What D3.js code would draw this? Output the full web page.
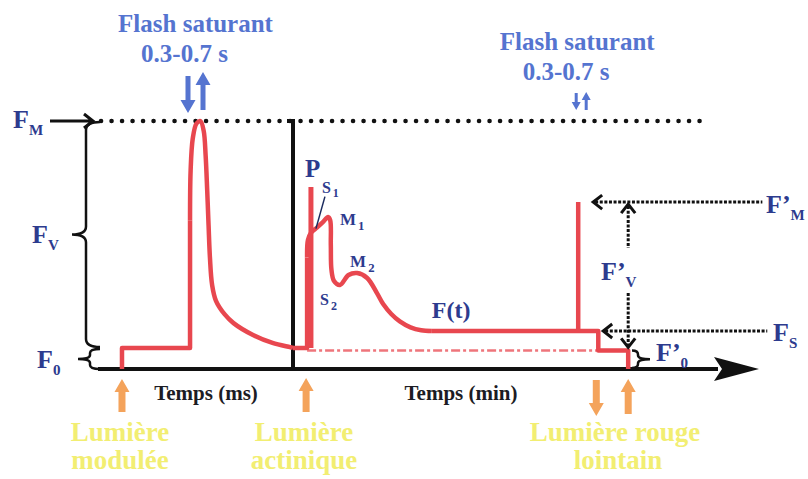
<!DOCTYPE html>
<html>
<head>
<meta charset="utf-8">
<script src="https://cdn.jsdelivr.net/npm/d3@7"></script>
<style>
  body { margin: 0; background: #fff; }
  svg { display: block; }
  text { font-family: "Liberation Serif", "Times New Roman", serif; font-weight: bold; }
</style>
</head>
<body>
<svg id="chart" width="808" height="479"></svg>
<script>
// Fluorescence levels (relative units, FM = 1)
const F0 = 0.085, FM = 1.0, FS = 0.153, FMp = 0.673, F0p = 0.075;

// Short time scale (ms): modulated light on, then saturating flash -> FM
const msSteps = [[1.23, 0], [1.23, F0], [4.72, F0], [4.72, 0.6]];
const msFlash = [[4.72, 0.6], [4.75, 0.8], [4.86, 0.93], [5.05, 0.99], [5.25, 1.0], [5.42, 0.96],
                 [5.52, 0.86], [5.6, 0.72], [5.67, 0.58], [5.74, 0.45], [5.85, 0.34], [6.05, 0.275],
                 [6.5, 0.22], [6.95, 0.185], [7.95, 0.137], [8.95, 0.105], [9.85, 0.088], [10, F0]];

// Long time scale (min): actinic light induction (Kautsky curve)
const minRise = [[0, F0], [0.66, F0], [0.66, 0.45]];
const minKautsky = [[0.66, 0.45], [0.7, 0.52], [0.85, 0.55], [1.12, 0.57], [1.41, 0.593], [1.64, 0.613],
                    [1.74, 0.6], [1.77, 0.5], [1.8, 0.4], [1.92, 0.355], [2.2, 0.339], [2.6, 0.379],
                    [3.0, 0.387], [3.47, 0.367], [3.93, 0.306], [4.22, 0.262], [4.6, 0.222],
                    [5.0, 0.192], [5.5, 0.168], [6.0, 0.156], [6.5, FS]];
const minTail = [[6.5, FS], [14.29, FS], [14.29, F0p], [15.69, F0p], [15.69, 0]];
const peakP = [[0.84, F0], [0.84, 0.734]];
const flashFMp = [[13.35, FS], [13.35, FMp]];
const f0Ref = [[0.66, F0p], [14.29, F0p]];

// Named transients of the induction curve
const kautskyNames = ["P", "S1", "M1", "S2", "M2"];
const kautskyPoints = [[0.84, 0.734], [1.12, 0.57], [1.64, 0.613], [2.2, 0.339], [3.0, 0.387]];

// Light events
const flashMs = 5.0, flashMin = 13.35;
const modulatedOn = 1.23, actinicOn = 0.66, farRedOn = 14.29, farRedOff = 15.69;

const red = "#e8474f", navy = "#2d3b8e", flashBlue = "#5574d0",
      orange = "#f4a35b", yellow = "#f2ee72", ink = "#111";

const svg = d3.select("#chart");
svg.append("rect").attr("width", 808).attr("height", 479).attr("fill", "#fff");

const y = d3.scaleLinear().domain([0, 1]).range([369, 121]);
const xMs = d3.scaleLinear().domain([0, 10]).range([98, 293]);
const xMin = d3.scaleLinear().domain([0, 22]).range([293, 763]);

const lineMs = c => d3.line().x(d => xMs(d[0])).y(d => y(d[1])).curve(c);
const lineMin = c => d3.line().x(d => xMin(d[0])).y(d => y(d[1])).curve(c);

// FM reference (dotted)
svg.append("line").attr("x1", 101).attr("x2", 705).attr("y1", y(FM)).attr("y2", y(FM))
  .attr("stroke", ink).attr("stroke-width", 4.5).attr("stroke-linecap", "round")
  .attr("stroke-dasharray", "0.1,10.4");

// Axes
svg.append("path").attr("d", `M${xMs(0)},${y(0)}L718,${y(0)}`)
  .attr("stroke", ink).attr("stroke-width", 4).attr("fill", "none");
svg.append("path").attr("d", `M714,${y(0) - 12}L759,${y(0)}L714,${y(0) + 12}L722,${y(0)}Z`).attr("fill", ink);
svg.append("path").attr("d", `M287,${y(FM)}L${xMin(0)},${y(FM)}L${xMin(0)},${y(0)}`)
  .attr("stroke", ink).attr("stroke-width", 4).attr("fill", "none");

// Fluorescence traces
const redPath = (d, gen, w = 4.5) => svg.append("path").datum(d).attr("d", gen)
  .attr("fill", "none").attr("stroke", red).attr("stroke-width", w)
  .attr("stroke-linejoin", "round");
svg.append("path").datum(f0Ref).attr("d", lineMin(d3.curveLinear))
  .attr("fill", "none").attr("stroke", red).attr("stroke-opacity", 0.75)
  .attr("stroke-width", 2.5).attr("stroke-dasharray", "9,3,3,3");
redPath(msSteps, lineMs(d3.curveLinear));
redPath(msFlash, lineMs(d3.curveCatmullRom.alpha(0.5)));
redPath(minRise, lineMin(d3.curveLinear));
redPath(minKautsky, lineMin(d3.curveCatmullRom.alpha(0.5)));
redPath(minTail, lineMin(d3.curveLinear));
redPath(peakP, lineMin(d3.curveLinear), 5);
redPath(flashFMp, lineMin(d3.curveLinear));

// Braces
function brace(x, y1, y2, q, w, r) {
  const ym = (y1 + y2) / 2, p = d3.path();
  p.moveTo(x, y1);
  p.quadraticCurveTo(x - q, y1, x - q, y1 + r);
  p.lineTo(x - q, ym - r);
  p.quadraticCurveTo(x - q, ym, x - w, ym);
  p.quadraticCurveTo(x - q, ym, x - q, ym + r);
  p.lineTo(x - q, y2 - r);
  p.quadraticCurveTo(x - q, y2, x, y2);
  return p.toString();
}
const braceStroke = s => s.attr("fill", "none").attr("stroke", ink).attr("stroke-width", 2.5);
braceStroke(svg.append("path").attr("d", brace(100, y(FM) + 1, y(F0) - 1, 14, 28, 8)));
braceStroke(svg.append("path").attr("d", brace(100, y(F0) + 1, y(0), 10, 22, 4)));
braceStroke(svg.append("path").attr("d", brace(632, y(F0p), y(0) - 1, -6, -18, 4)));

// FM pointer
svg.append("path").attr("d", `M50,${y(FM)}L92,${y(FM)}M84,${y(FM) - 7}L93,${y(FM)}L84,${y(FM) + 7}`)
  .attr("fill", "none").attr("stroke", ink).attr("stroke-width", 3);

// Dashed pointers on the right
const dashed = s => s.attr("fill", "none").attr("stroke", ink).attr("stroke-width", 3)
  .attr("stroke-dasharray", "3,1.6");
const chev = s => s.attr("fill", "none").attr("stroke", ink).attr("stroke-width", 3);
function leftArrow(t0, t1, v) {
  const xa = xMin(t0), xb = xMin(t1), yy = y(v);
  dashed(svg.append("path").attr("d", `M${xa + 2},${yy}L${xb},${yy}`));
  chev(svg.append("path").attr("d", `M${xa + 9},${yy - 7}L${xa},${yy}L${xa + 9},${yy + 7}`));
}
leftArrow(14.05, 21.97, FMp);
leftArrow(14.52, 22.2, FS);
{
  const xv = xMin(farRedOff), yTop = y(FMp) + 2, yBot = y(F0p) - 3;
  dashed(svg.append("path").attr("d", `M${xv},${yTop + 2}L${xv},248M${xv},293L${xv},${yBot - 2}`));
  chev(svg.append("path").attr("d", `M${xv - 7},${yTop + 9}L${xv},${yTop}L${xv + 7},${yTop + 9}`));
  chev(svg.append("path").attr("d", `M${xv - 7},${yBot - 9}L${xv},${yBot}L${xv + 7},${yBot - 9}`));
}

// Block arrows
function blockArrow(x, yTail, yTip, shaft, head, headLen, color) {
  const dir = yTip > yTail ? 1 : -1, yh = yTip - dir * headLen;
  svg.append("path").attr("fill", color).attr("d",
    `M${x - shaft / 2},${yTail}L${x + shaft / 2},${yTail}L${x + shaft / 2},${yh}` +
    `L${x + head / 2},${yh}L${x},${yTip}L${x - head / 2},${yh}L${x - shaft / 2},${yh}Z`);
}
const fxL = xMs(flashMs), fxR = xMin(flashMin);
blockArrow(fxL - 7.5, 76, 113, 5, 15, 13, flashBlue);
blockArrow(fxL + 7.5, 110, 72, 5, 15, 13, flashBlue);
blockArrow(fxR - 2, 93, 110, 3, 9, 8, flashBlue);
blockArrow(fxR + 8, 110, 92, 3, 9, 8, flashBlue);

blockArrow(xMs(modulatedOn), 412, 379, 7, 15, 13, orange);
blockArrow(xMin(actinicOn) - 1, 412, 378, 7, 15, 13, orange);
blockArrow(xMin(farRedOn) - 2, 380, 416, 7, 15, 13, orange);
blockArrow(xMin(farRedOff), 414, 379, 7, 15, 13, orange);

// Text helpers
function txt(x, yb, s, size, color, anchor = "middle") {
  return svg.append("text").attr("x", x).attr("y", yb).attr("font-size", size)
    .attr("fill", color).attr("text-anchor", anchor).text(s);
}
function fLabel(x, yb, sub, prime, size = 26) {
  const t = svg.append("text").attr("x", x).attr("y", yb).attr("font-size", size).attr("fill", navy);
  t.append("tspan").text(prime ? "F’" : "F");
  t.append("tspan").text(sub).attr("font-size", size * 0.58).attr("dy", size * 0.25);
  return t;
}
function subLabel(x, yb, main, sub, size) {
  const t = svg.append("text").attr("x", x).attr("y", yb).attr("font-size", size).attr("fill", navy);
  t.append("tspan").text(main);
  t.append("tspan").text(sub).attr("font-size", size * 0.75).attr("dy", size * 0.3).attr("dx", 2);
}

// Flash captions
txt(fxL, 32, "Flash saturant", 25, flashBlue);
txt(fxL - 11, 62, "0.3-0.7 s", 25, flashBlue);
txt(fxR - 1, 50, "Flash saturant", 25, flashBlue);
txt(fxR - 12, 80, "0.3-0.7 s", 25, flashBlue);

// Level labels
fLabel(13, 128, "M");
fLabel(32, 243, "V");
fLabel(37, 368, "0");
fLabel(766, 213, "M", true);
fLabel(773, 341, "S");
fLabel(601, 280, "V", true);
fLabel(656, 361, "0", true);

// Transient labels
const kp = Object.fromEntries(kautskyNames.map((n, i) => [n, [xMin(kautskyPoints[i][0]), y(kautskyPoints[i][1])]]));
txt(kp.P[0] - 6, kp.P[1] - 10, "P", 25, navy, "start");
subLabel(kp.S1[0] + 5, kp.S1[1] - 35, "S", "1", 16);
svg.append("line").attr("x1", kp.S1[0] - 1).attr("y1", kp.S1[1] + 1)
  .attr("x2", kp.S1[0] + 8).attr("y2", kp.S1[1] - 31).attr("stroke", "#1a2a5e").attr("stroke-width", 1.5);
subLabel(kp.M1[0] + 12, kp.M1[1] + 8, "M", "1", 17);
subLabel(kp.S2[0] - 20, kp.S2[1] + 20, "S", "2", 16);
subLabel(kp.M2[0] - 7, kp.M2[1] - 6, "M", "2", 17);
txt(xMin(6.5), y(FS) - 13, "F(t)", 24, navy, "start");

// Axis titles
txt(206, 400, "Temps (ms)", 21, "#1c1c24");
txt(461, 400, "Temps (min)", 21, "#1c1c24");

// Light annotations
txt(120, 441, "Lumière", 27, yellow);
txt(120, 469, "modulée", 27, yellow);
txt(304, 441, "Lumière", 27, yellow);
txt(304, 469, "actinique", 27, yellow);
txt(615, 441, "Lumière rouge", 27, yellow);
txt(618, 469, "lointain", 27, yellow);
</script>
</body>
</html>
